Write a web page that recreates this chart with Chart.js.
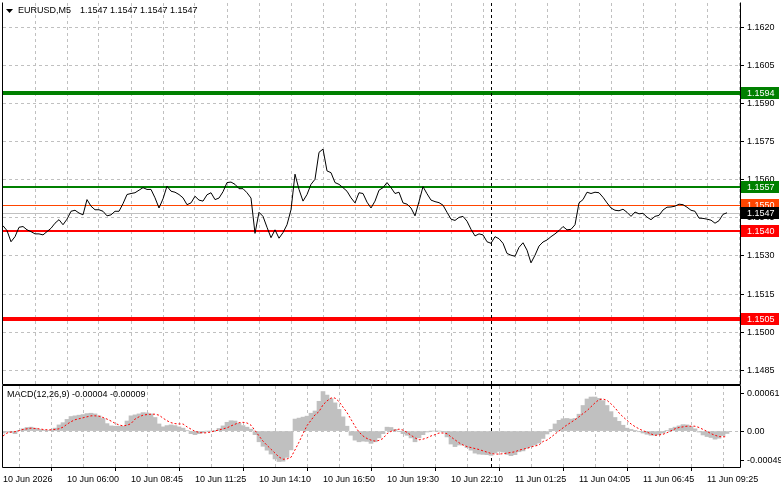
<!DOCTYPE html>
<html>
<head>
<meta charset="utf-8">
<script src="https://cdn.jsdelivr.net/npm/chart.js@4.4.0/dist/chart.umd.min.js"></script>
<style>
    html, body { margin: 0; padding: 0; background: #fff; }
    #wrap { position: relative; width: 781px; height: 489px; overflow: hidden; background: #fff; }
    #mainBox { position: absolute; left: 0; top: 0; width: 781px; height: 386px; }
    #macdBox { position: absolute; left: 0; top: 385px; width: 781px; height: 104px; }
</style>
</head>
<body>
<div id="wrap">
    <div id="mainBox"><canvas id="mainChart"></canvas></div>
    <div id="macdBox"><canvas id="macdChart"></canvas></div>
</div>
<script>
// ---- data ----
const symbolName = 'EURUSD,M5';
const lastBarOHLC = [1.1547, 1.1547, 1.1547, 1.1547];
const currentPrice = 1.1547;
const macdParams = [12, 26, 9];

const timeLabels = ['10 Jun 2026', '10 Jun 06:00', '10 Jun 08:45', '10 Jun 11:25', '10 Jun 14:10', '10 Jun 16:50',
    '10 Jun 19:30', '10 Jun 22:10', '11 Jun 01:25', '11 Jun 04:05', '11 Jun 06:45', '11 Jun 09:25'];
const priceTicks = [1.1485, 1.1500, 1.1515, 1.1530, 1.1545, 1.1560, 1.1575, 1.1590, 1.1605, 1.1620];
const macdTicks = [0.00061, 0, -0.00049];
const macdTickLabels = ['0.00061', '0.00', '-0.00049'];

// horizontal levels drawn on the chart
const levelPrices = [1.1594, 1.1557, 1.1550, 1.1540, 1.1505];
const levelColors = ['#008000', '#008000', '#ff4500', '#ff0000', '#ff0000'];
const levelWidths = [4, 2, 1, 2, 4];

// close prices, one sample every 2 bars
const closePrices = [
    1.15419, 1.15400, 1.15356, 1.15376, 1.15413, 1.15416, 1.15403, 1.15396, 1.15387, 1.15387,
    1.15383, 1.15396, 1.15409, 1.15429, 1.15443, 1.15423, 1.15445, 1.15476, 1.15480, 1.15469,
    1.15462, 1.15522, 1.15496, 1.15482, 1.15482, 1.15476, 1.15458, 1.15462, 1.15476, 1.15476,
    1.15506, 1.15542, 1.15546, 1.15549, 1.15559, 1.15569, 1.15562, 1.15562, 1.15529, 1.15489,
    1.15525, 1.15575, 1.15555, 1.15551, 1.15542, 1.15529, 1.15502,
    1.15509, 1.15535, 1.15520, 1.15516, 1.15541, 1.15549, 1.15522, 1.15528, 1.15553, 1.15589,
    1.15591, 1.15582, 1.15565, 1.15565, 1.15549, 1.15528, 1.15389, 1.15472, 1.15456, 1.15413,
    1.15372, 1.15403, 1.15370, 1.15392, 1.15423, 1.15482, 1.15622, 1.15562, 1.15516, 1.15542,
    1.15582, 1.15602, 1.15708, 1.15721, 1.15635, 1.15628, 1.15589, 1.15582, 1.15569, 1.15555,
    1.15529, 1.15509, 1.15549, 1.15546, 1.15512, 1.15489,
    1.15516, 1.15559, 1.15569, 1.15589, 1.15569, 1.15546, 1.15551, 1.15509, 1.15504, 1.15489,
    1.15458, 1.15514, 1.15573, 1.15545, 1.15520, 1.15514, 1.15510, 1.15500, 1.15472, 1.15445,
    1.15440, 1.15452, 1.15456, 1.15437, 1.15405, 1.15379, 1.15387, 1.15383, 1.15356, 1.15350,
    1.15376, 1.15368, 1.15350, 1.15310, 1.15303, 1.15299, 1.15334, 1.15352, 1.15323, 1.15273,
    1.15303, 1.15339, 1.15355, 1.15363, 1.15376, 1.15387,
    1.15400, 1.15416, 1.15403, 1.15405, 1.15423, 1.15509, 1.15522, 1.15551, 1.15546, 1.15551,
    1.15549, 1.15531, 1.15509, 1.15489, 1.15480, 1.15478, 1.15484, 1.15472, 1.15456, 1.15473,
    1.15466, 1.15468, 1.15453, 1.15443, 1.15456, 1.15460, 1.15481, 1.15492, 1.15493, 1.15496,
    1.15504, 1.15502, 1.15492, 1.15480, 1.15476, 1.15449, 1.15448, 1.15445, 1.15441, 1.15429,
    1.15439, 1.15464, 1.15470
];

const macdHist = [
    -0.000032, -0.000016, -0.000021, -0.000043, 0.000011, 0.000037, 0.000059, 0.000064, 0.000048, 0.000027,
    0.000016, 0.000011, 0.000016, 0.000048, 0.000101, 0.000138, 0.000192, 0.000239, 0.000250, 0.000261,
    0.000271, 0.000287, 0.000293, 0.000282, 0.000250, 0.000207, 0.000122, 0.000085, 0.000080, 0.000080,
    0.000080, 0.000165, 0.000250, 0.000266, 0.000282, 0.000303, 0.000298, 0.000282, 0.000223, 0.000117,
    0.000069, 0.000090, 0.000101, 0.000090, 0.000069, 0.000048, 0.000005, -0.000043, -0.000059, -0.000043,
    -0.000027, 0, 0, 0.000005, 0.000043, 0.000085, 0.000144, 0.000170, 0.000165, 0.000128,
    0.000090, 0.000064, 0.000032, -0.000059, -0.000176, -0.000250, -0.000314, -0.000378, -0.000458, -0.000500,
    -0.000495, -0.000431, -0.000309, 0.000197, 0.000213, 0.000229, 0.000245, 0.000293, 0.000330, 0.000489,
    0.000649, 0.000591, 0.000532, 0.000463, 0.000356, 0.000234, 0.000080, -0.000069, -0.000149, -0.000176,
    -0.000165, -0.000170, -0.000202, -0.000176, -0.000112, -0.000043, 0.000064, 0.000059, 0.000027, -0.000005,
    -0.000043, -0.000069, -0.000112, -0.000176, -0.000112, -0.000059, -0.000016, 0, 0, 0,
    -0.000016, -0.000096, -0.000213, -0.000255, -0.000229, -0.000229, -0.000271, -0.000314, -0.000362, -0.000378,
    -0.000383, -0.000388, -0.000399, -0.000362, -0.000335, -0.000346, -0.000383, -0.000404, -0.000388, -0.000340,
    -0.000325, -0.000282, -0.000255, -0.000229, -0.000197, -0.000122, -0.000048, 0.000027, 0.000117, 0.000176,
    0.000202, 0.000207, 0.000197, 0.000207, 0.000277, 0.000420, 0.000527, 0.000559, 0.000559, 0.000537,
    0.000500, 0.000420, 0.000319, 0.000223, 0.000160, 0.000096, 0.000048, 0.000027, 0.000011, -0.000011,
    -0.000032, -0.000053, -0.000069, -0.000069, -0.000059, -0.000032, 0.000011, 0.000043, 0.000064, 0.000085,
    0.000106, 0.000101, 0.000074, 0.000037, -0.000016, -0.000064, -0.000090, -0.000106, -0.000133, -0.000117,
    -0.000074, -0.000040
];

const macdSignal = [
    -0.000080, -0.000032, -0.000016, -0.000011, 0.000005, 0.000027, 0.000037, 0.000048, 0.000043, 0.000037,
    0.000027, 0.000021, 0.000021, 0.000027, 0.000037, 0.000064, 0.000112, 0.000154, 0.000186, 0.000202,
    0.000218, 0.000234, 0.000250, 0.000250, 0.000245, 0.000223, 0.000197, 0.000165, 0.000128, 0.000101,
    0.000085, 0.000096, 0.000122, 0.000197, 0.000234, 0.000261, 0.000271, 0.000277, 0.000277, 0.000261,
    0.000213, 0.000170, 0.000138, 0.000122, 0.000117, 0.000117, 0.000069, 0.000032, -0.000005, -0.000021,
    -0.000032, -0.000027, -0.000016, 0.000005, 0.000016, 0.000037, 0.000053, 0.000085, 0.000112, 0.000138,
    0.000144, 0.000133, 0.000096, 0.000011, -0.000080, -0.000165, -0.000234, -0.000298, -0.000362, -0.000426,
    -0.000463, -0.000458, -0.000431, -0.000309, -0.000181, -0.000043, 0.000090, 0.000176, 0.000266, 0.000319,
    0.000431, 0.000495, 0.000543, 0.000543, 0.000484, 0.000394, 0.000303, 0.000192, 0.000080, -0.000016,
    -0.000080, -0.000122, -0.000149, -0.000165, -0.000154, -0.000122, -0.000043, -0.000005, 0.000016, 0.000032,
    0.000016, -0.000021, -0.000069, -0.000112, -0.000144, -0.000133, -0.000112, -0.000080, -0.000059, -0.000032,
    -0.000032, -0.000043, -0.000096, -0.000144, -0.000192, -0.000229, -0.000255, -0.000271, -0.000287, -0.000303,
    -0.000325, -0.000346, -0.000367, -0.000378, -0.000378, -0.000372, -0.000362, -0.000351, -0.000340, -0.000314,
    -0.000298, -0.000282, -0.000261, -0.000245, -0.000229, -0.000170, -0.000149, -0.000101, -0.000048, 0,
    0.000053, 0.000101, 0.000144, 0.000186, 0.000234, 0.000287, 0.000335, 0.000399, 0.000463, 0.000516,
    0.000527, 0.000505, 0.000447, 0.000383, 0.000298, 0.000234, 0.000176, 0.000117, 0.000074, 0.000037,
    0.000005, -0.000016, -0.000048, -0.000069, -0.000064, -0.000053, -0.000027, 0.000005, 0.000037, 0.000059,
    0.000069, 0.000080, 0.000080, 0.000080, 0.000059, 0.000027, -0.000005, -0.000043, -0.000069, -0.000090,
    -0.000096, -0.000090
];

// time axis: bars per sample, bars between grid lines / labels, visible bars
const barsPerSample = 2;
const gridEveryBars = 16;
const labelEveryBars = 32;
const visibleBars = 368.5;
const cursorBar = 244;

const FONT = "'Liberation Sans', Arial, sans-serif";
const FONT_SIZE = 9;
const GRID = '#c0c0c0';

Chart.defaults.font.family = FONT;
Chart.defaults.font.size = FONT_SIZE;
Chart.defaults.color = '#000';

const gridBars = [];
for (let b = 0; b <= visibleBars; b += gridEveryBars) gridBars.push(b);

function drawCursor(chart) {
    const {ctx, chartArea: a, scales: {x}} = chart;
    const px = Math.round(x.getPixelForValue(cursorBar)) + 0.5;
    ctx.save();
    ctx.strokeStyle = '#000';
    ctx.lineWidth = 1;
    ctx.setLineDash([3, 3]);
    ctx.beginPath();
    ctx.moveTo(px, a.top);
    ctx.lineTo(px, a.bottom);
    ctx.stroke();
    ctx.restore();
}

function drawFrame(chart, withTop) {
    const {ctx, chartArea: a} = chart;
    ctx.save();
    ctx.strokeStyle = '#000';
    ctx.lineWidth = 1;
    ctx.beginPath();
    ctx.moveTo(a.left - 0.5, a.top - 0.5);
    ctx.lineTo(a.left - 0.5, a.bottom + 0.5);
    ctx.lineTo(a.right + 0.5, a.bottom + 0.5);
    ctx.lineTo(a.right + 0.5, a.top - 0.5);
    if (withTop) ctx.lineTo(a.left - 0.5, a.top - 0.5);
    ctx.stroke();
    ctx.restore();
}

function priceBox(chart, price, bg) {
    const {ctx, chartArea: a, scales: {y}} = chart;
    const py = Math.round(y.getPixelForValue(price));
    ctx.fillStyle = bg;
    ctx.fillRect(a.right + 1, py - 6, 38, 12);
    ctx.fillStyle = '#fff';
    ctx.font = FONT_SIZE + 'px ' + FONT;
    ctx.textAlign = 'left';
    ctx.textBaseline = 'middle';
    ctx.fillText(price.toFixed(4), a.right + 7, py + 0.5);
}

const mainOverlay = {
    id: 'mainOverlay',
    beforeDatasetsDraw(chart) {
        const {ctx, chartArea: a, scales: {y}} = chart;
        ctx.save();
        // bid line
        let py = Math.round(y.getPixelForValue(currentPrice)) + 0.5;
        ctx.strokeStyle = GRID;
        ctx.lineWidth = 1;
        ctx.beginPath();
        ctx.moveTo(a.left, py);
        ctx.lineTo(a.right, py);
        ctx.stroke();
        levelPrices.forEach(function(p, i) {
            const w = levelWidths[i];
            let ly = Math.round(y.getPixelForValue(p));
            if (w % 2 === 1) ly += 0.5;
            ctx.strokeStyle = levelColors[i];
            ctx.lineWidth = w;
            ctx.beginPath();
            ctx.moveTo(a.left - 1, ly);
            ctx.lineTo(a.right, ly);
            ctx.stroke();
        });
        ctx.restore();
        drawCursor(chart);
    },
    afterDraw(chart) {
        const {ctx, chartArea: a} = chart;
        drawFrame(chart, false);
        ctx.save();
        levelPrices.forEach(function(p, i) {
            priceBox(chart, p, levelColors[i]);
        });
        priceBox(chart, currentPrice, '#000');

        // title
        ctx.fillStyle = '#000';
        ctx.beginPath();
        ctx.moveTo(a.left + 3, 9);
        ctx.lineTo(a.left + 10, 9);
        ctx.lineTo(a.left + 6.5, 13);
        ctx.closePath();
        ctx.fill();
        ctx.font = FONT_SIZE + 'px ' + FONT;
        ctx.textAlign = 'left';
        ctx.textBaseline = 'middle';
        ctx.fillText(symbolName, a.left + 15, 11);
        const w = ctx.measureText(symbolName).width;
        ctx.fillText(lastBarOHLC.map(v => v.toFixed(4)).join(' '), a.left + 15 + w + 9, 11);
        ctx.restore();
    }
};

const macdOverlay = {
    id: 'macdOverlay',
    beforeDatasetsDraw(chart) {
        drawCursor(chart);
    },
    afterDraw(chart) {
        const {ctx, chartArea: a} = chart;
        drawFrame(chart, true);
        ctx.save();
        ctx.fillStyle = '#000';
        ctx.font = FONT_SIZE + 'px ' + FONT;
        ctx.textAlign = 'left';
        ctx.textBaseline = 'middle';
        const lastHist = macdHist[macdHist.length - 1];
        const lastSig = macdSignal[macdSignal.length - 1];
        ctx.fillText('MACD(' + macdParams.join(',') + ') ' + lastHist.toFixed(5) + ' ' + lastSig.toFixed(5),
            a.left + 4, a.top + 9);
        ctx.restore();
    }
};

function fixY(s) {
    s.width = 41;
    s.paddingTop = 0;
    s.paddingBottom = 0;
}

// ---- main price chart ----
new Chart(document.getElementById('mainChart'), {
    type: 'line',
    data: {
        datasets: [{
            data: closePrices.map((p, k) => ({x: k * barsPerSample, y: p})),
            borderColor: '#000',
            borderWidth: 1,
            pointRadius: 0,
            tension: 0
        }]
    },
    options: {
        responsive: true,
        maintainAspectRatio: false,
        animation: false,
        layout: {padding: {left: 3, top: 3, right: 0, bottom: 2}},
        plugins: {legend: {display: false}, tooltip: {enabled: false}},
        scales: {
            x: {
                type: 'linear',
                min: 0,
                max: visibleBars,
                offset: false,
                afterBuildTicks: s => { s.ticks = gridBars.filter(b => b > 0).map(b => ({value: b})); },
                afterFit: s => { s.height = 0; s.paddingLeft = 0; s.paddingRight = 0; },
                ticks: {display: false},
                grid: {color: GRID, drawTicks: false},
                border: {display: false, dash: [3, 3]}
            },
            y: {
                position: 'right',
                min: 1.14796,
                max: 1.16296,
                afterBuildTicks: s => { s.ticks = priceTicks.map(v => ({value: v})); },
                afterFit: fixY,
                ticks: {padding: 3, callback: v => v.toFixed(4)},
                grid: {color: GRID, tickColor: '#000', tickLength: 4, tickBorderDash: []},
                border: {display: false, dash: [3, 3]}
            }
        }
    },
    plugins: [mainOverlay]
});

// ---- MACD panel ----
new Chart(document.getElementById('macdChart'), {
    type: 'bar',
    data: {
        datasets: [{
            type: 'bar',
            data: macdHist.map((v, k) => ({x: k * barsPerSample, y: v})),
            backgroundColor: '#c0c0c0',
            borderWidth: 0,
            barPercentage: 1.0,
            categoryPercentage: 1.0,
            order: 2
        }, {
            type: 'line',
            data: macdSignal.map((v, k) => ({x: k * barsPerSample, y: v})),
            borderColor: '#ff0000',
            borderWidth: 1,
            borderDash: [2, 2],
            pointRadius: 0,
            tension: 0,
            order: 1
        }]
    },
    options: {
        responsive: true,
        maintainAspectRatio: false,
        animation: false,
        layout: {padding: {left: 3, top: 1, right: 0, bottom: 0}},
        plugins: {legend: {display: false}, tooltip: {enabled: false}},
        scales: {
            x: {
                type: 'linear',
                min: 0,
                max: visibleBars,
                offset: false,
                afterBuildTicks: s => { s.ticks = gridBars.map(b => ({value: b})); },
                afterFit: s => { s.height = 22; s.paddingLeft = 0; s.paddingRight = 0; },
                ticks: {
                    autoSkip: false,
                    maxRotation: 0,
                    minRotation: 0,
                    align: 'start',
                    padding: 3,
                    callback: v => (v % labelEveryBars === 0 ? timeLabels[v / labelEveryBars] : '')
                },
                grid: {
                    color: c => (c.tick && c.tick.value === 0 ? 'rgba(0,0,0,0)' : GRID),
                    tickColor: c => (c.tick && c.tick.value % labelEveryBars === 0 ? '#000' : 'rgba(0,0,0,0)'),
                    tickLength: 4,
                    tickBorderDash: []
                },
                border: {display: false, dash: [3, 3]}
            },
            y: {
                position: 'right',
                min: -0.00059,
                max: 0.00074,
                afterBuildTicks: s => { s.ticks = macdTicks.map(v => ({value: v})); },
                afterFit: fixY,
                ticks: {padding: 3, callback: (v, i) => macdTickLabels[i]},
                grid: {
                    color: c => (c.tick && c.tick.value === 0 ? GRID : 'rgba(0,0,0,0)'),
                    tickColor: '#000',
                    tickLength: 4,
                    tickBorderDash: []
                },
                border: {display: false, dash: [3, 3]}
            }
        }
    },
    plugins: [macdOverlay]
});
</script>
</body>
</html>
